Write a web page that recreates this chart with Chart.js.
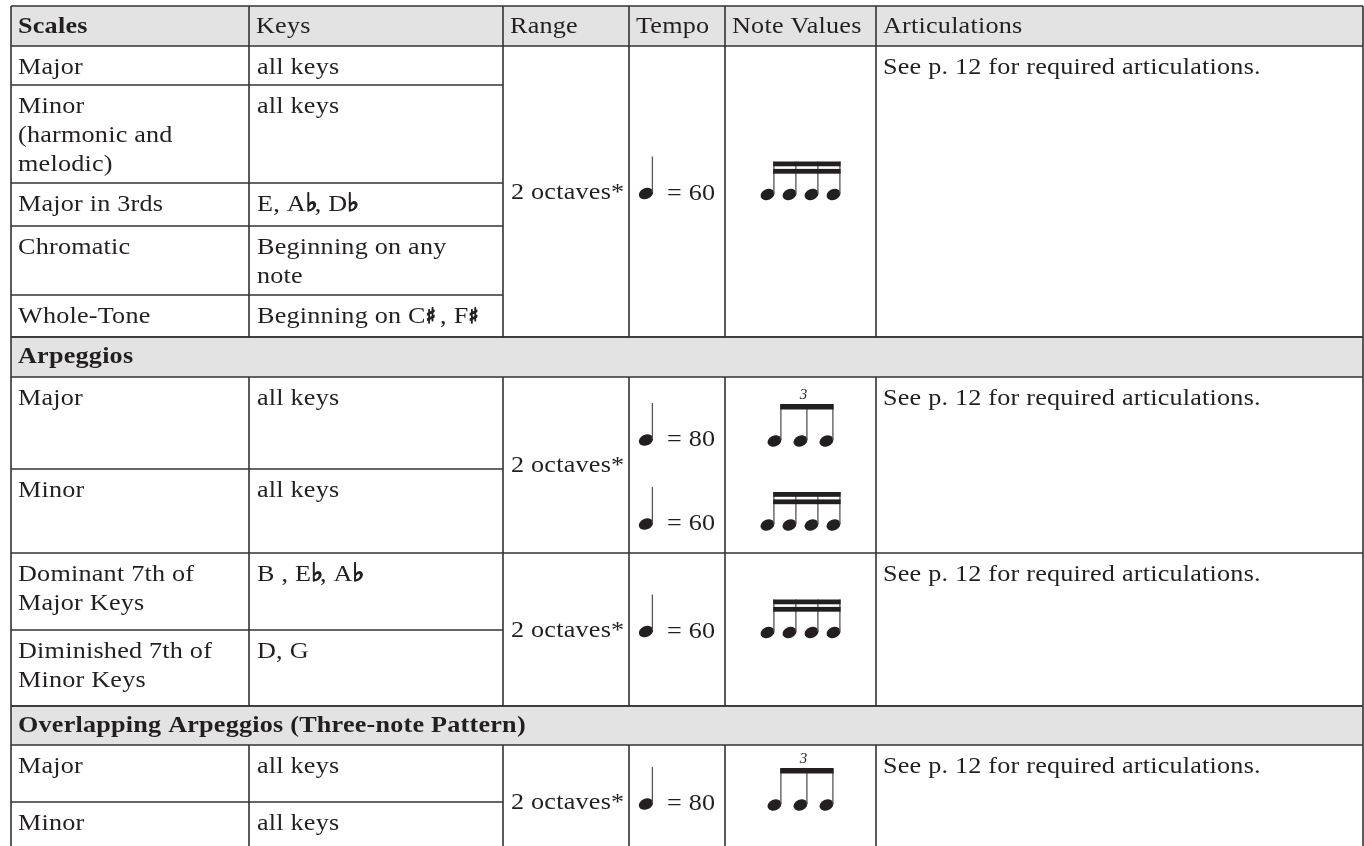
<!DOCTYPE html>
<html lang="en">
<head>
<meta charset="UTF-8">
<title>Scales and Arpeggios</title>
<script src="https://cdn.jsdelivr.net/npm/chart.js"></script>
<style>
    html, body { margin: 0; padding: 0; background: #ffffff; }
    #wrap { width: 1364px; height: 846px; overflow: hidden; }
    canvas { display: block; }
</style>
</head>
<body>
<div id="wrap"><canvas id="reqTable" width="1364" height="846"></canvas></div>
<script>
// table content
const headerLabels = ['Scales', 'Keys', 'Range', 'Tempo', 'Note Values', 'Articulations'];
const sectionTitles = [null, 'Arpeggios', null, 'Overlapping Arpeggios (Three-note Pattern)'];

// which block each row belongs to
const rowBlock = [0, 0, 0, 0, 0, 1, 1, 2, 2, 3, 3];
const rowNames = [
    ['Major'], ['Minor', '(harmonic and', 'melodic)'], ['Major in 3rds'], ['Chromatic'], ['Whole-Tone'],
    ['Major'], ['Minor'],
    ['Dominant 7th of', 'Major Keys'], ['Diminished 7th of', 'Minor Keys'],
    ['Major'], ['Minor']
];
const rowKeys = [
    ['all keys'], ['all keys'], ['E, A♭, D♭'], ['Beginning on any', 'note'], ['Beginning on C♯ , F♯'],
    ['all keys'], ['all keys'],
    ['B , E♭, A♭'], ['D, G'],
    ['all keys'], ['all keys']
];

const blockRange = ['2 octaves*', '2 octaves*', '2 octaves*', '2 octaves*'];
const blockTempo = [[60], [80, 60], [60], [80]];
const blockNotes = [['sixteenths'], ['triplet', 'sixteenths'], ['sixteenths'], ['triplet']];
const blockArticulation = [
    'See p. 12 for required articulations.',
    'See p. 12 for required articulations.',
    'See p. 12 for required articulations.',
    'See p. 12 for required articulations.'
];

// layout (table units = px)
const colEdges = [11, 249, 503, 629, 725, 876, 1363];
const tableTop = 6;
const headerH = 40;
const bandH = [0, 40, 0, 39];
const rowH = [39, 98, 43, 69, 42, 92, 84, 77, 76, 57, 57];

const FONT = '"Liberation Serif", "Times New Roman", serif';
const WIDEN = 1.09;   // the printed face is wider than Times
const INK = '#231f20';
const RULE = '#333333';
const SHADE = '#e3e3e3';

function buildGeometry() {
    let y = tableTop + headerH;
    const blocks = blockRange.map(() => ({ top: 0, bottom: 0, rows: [] }));
    const bands = [];
    rowBlock.forEach((b, i) => {
        const blk = blocks[b];
        if (blk.rows.length === 0) {
            if (sectionTitles[b]) {
                bands.push({ title: sectionTitles[b], top: y, bottom: y + bandH[b] });
                y += bandH[b];
            }
            blk.top = y;
        }
        blk.rows.push({ i: i, top: y, bottom: y + rowH[i] });
        y += rowH[i];
        blk.bottom = y;
    });
    return { blocks, bands };
}

const tablePlugin = {
    id: 'tableDraw',
    beforeDraw(chart) {
        const ctx = chart.ctx;
        ctx.save();
        ctx.fillStyle = '#ffffff';
        ctx.fillRect(0, 0, chart.width, chart.height);
        ctx.restore();
    },
    afterDraw(chart) {
        const ctx = chart.ctx;
        const xs = chart.scales.x, ys = chart.scales.y;
        const X = v => xs.getPixelForValue(v);
        const Y = v => ys.getPixelForValue(v);
        const geo = buildGeometry();
        const left = colEdges[0], right = colEdges[colEdges.length - 1];

        function hline(x0, x1, y) {
            ctx.beginPath(); ctx.moveTo(X(x0), Y(y)); ctx.lineTo(X(x1), Y(y)); ctx.stroke();
        }
        function vline(x, y0, y1) {
            ctx.beginPath(); ctx.moveTo(X(x), Y(y0)); ctx.lineTo(X(x), Y(y1)); ctx.stroke();
        }
        // text, slightly widened; sharps and flats set heavier in a symbol font
        function txt(s, x, y, bold) {
            let px = X(x);
            const py = Y(y);
            s.split(/([♭♯])/).forEach(part => {
                if (!part) return;
                const accidental = part === '♭' || part === '♯';
                ctx.font = accidental
                    ? (part === '♭' ? 25 : 21) + 'px "DejaVu Sans"'
                    : (bold ? 'bold ' : '') + '24px ' + FONT;
                ctx.letterSpacing = accidental ? '0px' : '0.2px';
                const sx = accidental ? 1 : WIDEN;
                ctx.save();
                ctx.translate(px, py);
                ctx.scale(sx, 1);
                ctx.fillText(part, 0, 0);
                if (accidental) {
                    ctx.strokeStyle = INK;
                    ctx.lineWidth = 1.3;
                    ctx.strokeText(part, 0, 0);
                }
                ctx.restore();
                px += ctx.measureText(part).width * sx * (accidental ? 0.75 : 1);
            });
            ctx.letterSpacing = '0px';
        }
        function head(cx, cy, rx, ry) {
            ctx.save();
            ctx.translate(X(cx), Y(cy));
            ctx.rotate(-0.4);
            ctx.beginPath(); ctx.ellipse(0, 0, rx, ry, 0, 0, Math.PI * 2); ctx.fill();
            ctx.restore();
        }
        function stem(x, y0, y1) {
            ctx.save();
            ctx.strokeStyle = '#555555'; ctx.lineWidth = 1.3;
            ctx.beginPath(); ctx.moveTo(X(x), Y(y0)); ctx.lineTo(X(x), Y(y1)); ctx.stroke();
            ctx.restore();
        }
        function tempoMark(bpm, colX, base) {
            const hx = colX + 17, hy = base - 6;
            head(hx, hy, 7.4, 5.4);
            stem(hx + 6.4, hy - 1, hy - 37);
            txt('= ' + bpm, colX + 38, base, false);
        }
        function noteGroup(kind, cx, base) {
            const hy = base - 5;
            if (kind === 'sixteenths') {
                const offs = [-33, -11, 11, 33];
                offs.forEach(o => { head(cx + o, hy, 7.2, 5.4); stem(cx + o + 6.4, hy - 1, hy - 33); });
                const bx = cx - 33 + 5.7, bw = 66 + 1.4;
                ctx.fillRect(X(bx), Y(hy - 33), bw, 4.8);
                ctx.fillRect(X(bx), Y(hy - 25.6), bw, 4.8);
            } else {
                const offs = [-26, 0, 26];
                offs.forEach(o => { head(cx + o, hy, 7.2, 5.4); stem(cx + o + 6.4, hy - 1, hy - 36); });
                ctx.fillRect(X(cx - 26 + 5.7), Y(hy - 37), 52 + 1.4, 5.5);
                ctx.save();
                ctx.font = 'italic 15px ' + FONT;
                ctx.textAlign = 'center';
                ctx.textBaseline = 'middle';
                ctx.fillText('3', X(cx + 3), Y(hy - 46));
                ctx.restore();
            }
        }

        ctx.save();
        // shaded header and section bands
        ctx.fillStyle = SHADE;
        ctx.fillRect(X(left), Y(tableTop), X(right) - X(left), Y(tableTop + headerH) - Y(tableTop));
        geo.bands.forEach(bd => {
            ctx.fillRect(X(left), Y(bd.top), X(right) - X(left), Y(bd.bottom) - Y(bd.top));
        });

        // text
        ctx.fillStyle = INK;
        ctx.textBaseline = 'alphabetic';
        ctx.textAlign = 'left';
        headerLabels.forEach((h, c) => txt(h, colEdges[c] + 7, tableTop + 27, c === 0));
        geo.bands.forEach(bd => txt(bd.title, left + 7, bd.top + 26, true));

        geo.blocks.forEach((blk, b) => {
            blk.rows.forEach(r => {
                rowNames[r.i].forEach((s, k) => txt(s, colEdges[0] + 7, r.top + 28 + k * 29, false));
                rowKeys[r.i].forEach((s, k) => txt(s, colEdges[1] + 8, r.top + 28 + k * 29, false));
            });
            const mid = (blk.top + blk.bottom) / 2;
            txt(blockRange[b], colEdges[2] + 8, mid + 7, false);
            txt(blockArticulation[b], colEdges[5] + 7, blk.top + 28, false);

            const noteX = (colEdges[4] + colEdges[5]) / 2;
            if (blockTempo[b].length === 1) {
                tempoMark(blockTempo[b][0], colEdges[3], mid + 8);
                noteGroup(blockNotes[b][0], noteX, mid + 8);
            } else {
                blockTempo[b].forEach((bpm, k) => {
                    const base = blk.rows[k].bottom - 23;
                    tempoMark(bpm, colEdges[3], base);
                    noteGroup(blockNotes[b][k], noteX, base);
                });
            }
        });

        // rules
        ctx.strokeStyle = RULE;
        ctx.lineWidth = 1.6;
        hline(left, right, tableTop);
        hline(left, right, tableTop + headerH);
        colEdges.forEach(cx => vline(cx, tableTop, tableTop + headerH));
        geo.bands.forEach(bd => {
            hline(left, right, bd.top);
            hline(left, right, bd.bottom);
            vline(left, bd.top, bd.bottom);
            vline(right, bd.top, bd.bottom);
        });
        geo.blocks.forEach(blk => {
            colEdges.forEach(cx => vline(cx, blk.top, blk.bottom));
            blk.rows.forEach((r, k) => {
                if (k > 0) hline(colEdges[0], colEdges[2], r.top);
            });
            hline(left, right, blk.bottom);
        });
        ctx.restore();
    }
};

new Chart(document.getElementById('reqTable'), {
    type: 'scatter',
    data: { datasets: [{ data: [] }] },
    options: {
        responsive: false,
        maintainAspectRatio: false,
        devicePixelRatio: 1,
        animation: false,
        layout: { padding: 0 },
        plugins: { legend: { display: false }, tooltip: { enabled: false } },
        scales: {
            x: { type: 'linear', min: 0, max: 1364, display: false },
            y: { type: 'linear', min: 0, max: 846, reverse: true, display: false }
        }
    },
    plugins: [tablePlugin]
});
</script>
</body>
</html>
